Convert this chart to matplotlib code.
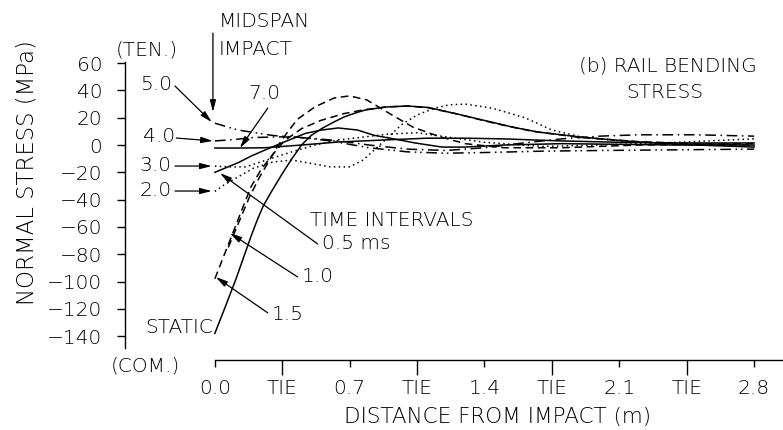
import matplotlib
matplotlib.use('Agg')
import matplotlib.pyplot as plt

plt.rcParams['font.family'] = ['DejaVu Sans']
plt.rcParams['font.weight'] = 'light'
plt.rcParams['axes.unicode_minus'] = True

# ---- data (distance m, stress MPa) ----
static_x = [0.0, 0.05, 0.11, 0.19, 0.22, 0.25, 0.29, 0.35, 0.40, 0.45, 0.50, 0.56, 0.62, 0.67, 0.73, 0.78,
            0.88, 1.0, 1.11, 1.25, 1.43, 1.55, 1.68, 1.89, 2.05, 2.2, 2.5, 2.8]
static_y = [-138, -120, -98, -66, -55, -45, -35, -21, -10, 0, 7, 12.5, 17, 20.5, 23.5, 25.6,
            27.8, 28.6, 27.5, 23, 17, 13, 9.5, 6, 4, 2.2, 0, -1.5]

t05_x = [0.0, 0.06, 0.12, 0.19, 0.26, 0.36, 0.47, 0.555, 0.64, 0.74, 0.83, 0.93, 1.04, 1.18, 1.3, 1.5,
         1.8, 2.1, 2.4, 2.8]
t05_y = [-20, -16.5, -13, -8, -3.7, 2.2, 8.5, 11, 12.5, 11, 7, 4.5, 1.5, -1.5, -1.5, 0, 1, 0.5, 0, 0]

t10_x = [0.07, 0.12, 0.18, 0.23, 0.28, 0.33, 0.38, 0.43, 0.52, 0.62, 0.70, 0.79, 0.92, 1.03, 1.17, 1.3,
         1.5, 1.8, 2.2, 2.8]
t10_y = [-75, -58, -38, -24, -12, 0, 10, 19, 28, 34.5, 36, 33, 22, 13, 6, 1, -2, -2, 0, 1]

t15_x = [0.0, 0.05, 0.1, 0.15, 0.19, 0.24, 0.3, 0.36, 0.45, 0.55, 0.67, 0.78, 0.9, 1.0, 1.1, 1.25, 1.45,
         1.65, 1.9, 2.2, 2.5, 2.8]
t15_y = [-98, -80, -62, -44, -30, -18, -7, 3, 12, 18, 23, 26, 28, 28.5, 27.5, 23, 16, 10, 5.5, 2.5, 1, 0]

t20_x = [0.0, 0.05, 0.1, 0.2, 0.3, 0.4, 0.5, 0.6, 0.7, 0.77, 0.84, 0.91, 0.97, 1.05, 1.14, 1.22, 1.3,
         1.44, 1.61, 1.75, 1.9, 2.1, 2.4, 2.8]
t20_y = [-34, -29, -25, -17, -12.5, -11, -13.5, -16, -16, -11, -2, 7, 15, 22, 27, 29.5, 30, 27, 20, 11,
         6, 3, 1, -1]

t30_x = [0.0, 0.08, 0.16, 0.3, 0.4, 0.52, 0.64, 0.78, 0.9, 1.05, 1.2, 1.4, 1.7, 2.0, 2.4, 2.8]
t30_y = [-15.5, -16, -16, -9.5, -5, 0, 3.7, 6, 8, 9, 6, 2, -1, 0, 2, 4.5]

t40_x = [0.0, 0.1, 0.2, 0.35, 0.5, 0.65, 0.8, 1.0, 1.2, 1.4, 1.6, 1.8, 2.0, 2.2, 2.5, 2.8]
t40_y = [3, 4, 5.5, 6, 5, 3, 0, -3, -4, -2, 1.5, 4.5, 6.5, 7.5, 7.5, 6.5]

t50_x = [0.0, 0.12, 0.3, 0.45, 0.6, 0.8, 1.0, 1.2, 1.4, 1.7, 2.0, 2.4, 2.8]
t50_y = [16, 11, 7, 5.5, 3, -2, -5, -6, -5.5, -4.5, -4, -3.5, -3]

t70_x = [0.0, 0.13, 0.26, 0.45, 0.64, 0.88, 1.1, 1.3, 1.5, 1.8, 2.1, 2.4, 2.8]
t70_y = [-2.2, -2.2, -2.0, 0, 2.2, 3.7, 5, 5, 4.5, 3, 2, 1.5, 1.5]

y_ticks = [60, 40, 20, 0, -20, -40, -60, -80, -100, -120, -140]
tie_ticks = [0.35, 1.05, 1.75, 2.45]
tie_labels = ['TIE', 'TIE', 'TIE', 'TIE']
dist_ticks = [0.0, 0.7, 1.4, 2.1, 2.8]
dist_labels = ['0.0', '0.7', '1.4', '2.1', '2.8']

FS = 14.5

fig = plt.figure(figsize=(7.83, 4.30), dpi=100)
ax = fig.add_axes([125 / 783, 70 / 430, 658 / 783, 299.6 / 430])
ax.set_xlim(-0.4666, 2.95)
ax.set_ylim(-157.5, 62)

lw = 1.1
dot = (0, (1, 2.2))
ax.plot(static_x, static_y, color='k', lw=lw)
ax.plot(t05_x, t05_y, color='k', lw=lw)
ax.plot(t70_x, t70_y, color='k', lw=lw)
ax.plot(t10_x, t10_y, color='k', lw=lw, ls=(0, (5, 3)))
ax.plot(t15_x, t15_y, color='k', lw=lw, ls=(0, (5, 3)))
ax.plot(t20_x, t20_y, color='k', lw=lw, ls=dot)
ax.plot(t30_x, t30_y, color='k', lw=lw, ls=dot)
ax.plot(t40_x, t40_y, color='k', lw=lw, ls=(0, (7, 3, 1, 3)))
ax.plot(t50_x, t50_y, color='k', lw=lw, ls=(0, (7, 3, 1, 2.5, 1, 3)))

# axes styling
for s in ['top', 'right']:
    ax.spines[s].set_visible(False)
ax.spines['left'].set_bounds(-149, 60.5)
ax.spines['bottom'].set_bounds(0, 2.95)
ax.spines['left'].set_linewidth(1.0)
ax.spines['bottom'].set_linewidth(1.0)

ax.set_yticks(y_ticks)
ax.tick_params(axis='y', direction='out', length=5.8, width=1.0, pad=10.5, labelsize=FS)
ax.set_xticks(tie_ticks, labels=tie_labels)
ax.set_xticks(dist_ticks, labels=dist_labels, minor=True)
ax.tick_params(axis='x', which='major', direction='out', length=10.8, width=1.0, pad=3.0, labelsize=FS)
ax.tick_params(axis='x', which='minor', direction='out', length=5.0, width=1.0, pad=8.8, labelsize=FS)

fig.text(27 / 783, 1 - 173 / 430, 'NORMAL STRESS (MPa)', rotation=90, ha='center', va='center', fontsize=16.5)
fig.text(498 / 783, 1 - 417 / 430, 'DISTANCE FROM IMPACT (m)', ha='center', va='center', fontsize=15.5)

# text labels
ax.text(-0.353, 69.6, '(TEN.)', ha='center', va='center', fontsize=FS, clip_on=False)
ax.text(-0.363, -162, '(COM.)', ha='center', va='center', fontsize=FS, clip_on=False)
ax.text(0.021, 90.8, 'MIDSPAN', ha='left', va='center', fontsize=FS, clip_on=False)
ax.text(0.021, 70, 'IMPACT', ha='left', va='center', fontsize=FS, clip_on=False)
ax.text(1.892, 57.9, '(b) RAIL BENDING', ha='left', va='center', fontsize=FS, clip_on=False)
ax.text(2.136, 38.8, 'STRESS', ha='left', va='center', fontsize=FS, clip_on=False)
ax.text(0.492, -55, 'TIME INTERVALS', ha='left', va='center', fontsize=FS)
ax.text(-0.01, -134, 'STATIC', ha='right', va='center', fontsize=FS)

arrow = dict(arrowstyle='-|>,head_length=0.7,head_width=0.18', color='k', lw=0.9,
             shrinkA=0, shrinkB=0)

# (label, text pos, ha, arrow tail, arrow head)
notes = [
    ('5.0', (-0.223, 44.7), 'right', (-0.207, 43.2), (-0.016, 16.8)),
    ('4.0', (-0.207, 5.9), 'right', (-0.2, 5.1), (-0.01, 3.0)),
    ('7.0', (0.259, 37.4), 'center', (0.275, 27.1), (0.13, -2.2)),
    ('3.0', (-0.223, -14.7), 'right', (-0.207, -15.4), (-0.016, -15.4)),
    ('2.0', (-0.223, -33.0), 'right', (-0.207, -33.7), (-0.016, -33.7)),
    ('0.5 ms', (0.555, -71.8), 'left', (0.534, -72.5), (0.026, -20.5)),
    ('1.0', (0.451, -96.0), 'left', (0.43, -96.7), (0.078, -64.5)),
    ('1.5', (0.295, -124.5), 'left', (0.275, -123.0), (0.005, -96.7)),
]
for label, pos, ha, tail, head in notes:
    ax.text(pos[0], pos[1], label, ha=ha, va='center', fontsize=FS, clip_on=False)
    ax.annotate('', xy=head, xytext=tail, arrowprops=arrow, annotation_clip=False)

ax.annotate('', xy=(-0.01, 24.2), xytext=(-0.01, 82), arrowprops=arrow, annotation_clip=False)

fig.savefig('out.png', dpi=100)
